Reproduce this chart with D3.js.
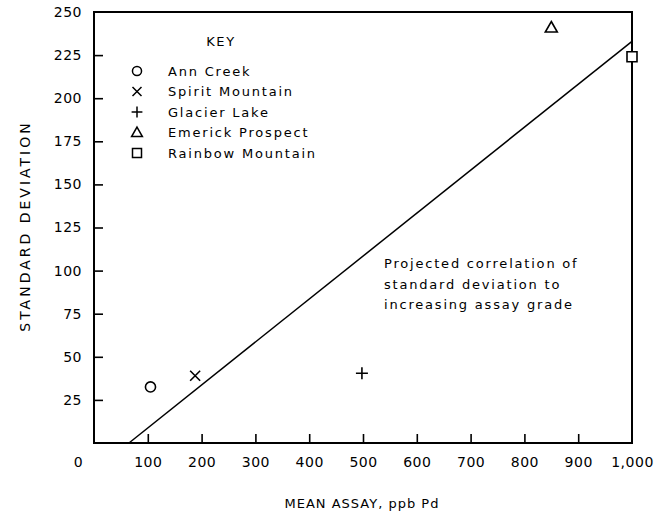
<!DOCTYPE html>
<html>
<head>
<meta charset="utf-8">
<script src="https://cdn.jsdelivr.net/npm/d3@7"></script>
<style>
  body { margin: 0; background: #fff; }
  svg { display: block; }
  text { font-family: "DejaVu Sans", sans-serif; fill: #000; }
</style>
</head>
<body>
<div id="wrapper"></div>
<script>
// data
const sites = ["Ann Creek", "Spirit Mountain", "Glacier Lake", "Emerick Prospect", "Rainbow Mountain"];
const symbols = ["circle", "cross", "plus", "triangle", "square"];
const meanAssay = [105, 188, 498, 850, 1000];
const stdDev = [32.5, 39, 40.5, 241, 224];
const trendX = [65, 1000];
const trendY = [0, 233];
const xTicks = [0, 100, 200, 300, 400, 500, 600, 700, 800, 900, 1000];
const yTicks = [25, 50, 75, 100, 125, 150, 175, 200, 225, 250];
const noteLines = ["Projected correlation of", "standard deviation to", "increasing assay grade"];

const dimensions = {
  width: 661,
  height: 514,
  margin: { top: 12, right: 29, bottom: 71, left: 94 },
}
dimensions.boundedWidth = dimensions.width - dimensions.margin.left - dimensions.margin.right
dimensions.boundedHeight = dimensions.height - dimensions.margin.top - dimensions.margin.bottom

const wrapper = d3.select("#wrapper")
  .append("svg")
    .attr("width", dimensions.width)
    .attr("height", dimensions.height)

const bounds = wrapper.append("g")
  .attr("transform", `translate(${dimensions.margin.left},${dimensions.margin.top})`)

// scales
const xScale = d3.scaleLinear()
  .domain([0, 1000])
  .range([0, dimensions.boundedWidth])

const yScale = d3.scaleLinear()
  .domain([0, 250])
  .range([dimensions.boundedHeight, 0])

// frame
bounds.append("rect")
  .attr("width", dimensions.boundedWidth)
  .attr("height", dimensions.boundedHeight)
  .attr("fill", "none")
  .attr("stroke", "#000")
  .attr("stroke-width", 2)

// axes, ticks pointing inward
const xAxis = bounds.append("g")
  .attr("transform", `translate(0,${dimensions.boundedHeight})`)
  .call(d3.axisBottom(xScale)
    .tickValues(xTicks)
    .tickSize(-9)
    .tickPadding(14)
    .tickFormat(d3.format(",")))
xAxis.select(".domain").remove()
xAxis.selectAll(".tick line")
  .attr("stroke-width", 1.6)
  .filter(d => d === 0 || d === 1000).remove()
xAxis.selectAll(".tick text")
  .style("font-size", "14px")
  .style("letter-spacing", "0.5px")
  .attr("dx", d => d === 0 ? -16 : 0)

const yAxis = bounds.append("g")
  .call(d3.axisLeft(yScale)
    .tickValues(yTicks)
    .tickSize(-9)
    .tickPadding(12))
yAxis.select(".domain").remove()
yAxis.selectAll(".tick line")
  .attr("stroke-width", 1.6)
  .filter(d => d === 250).remove()
yAxis.selectAll(".tick text")
  .style("font-size", "14px")
  .style("letter-spacing", "0.5px")

// axis titles
wrapper.append("text")
  .attr("x", dimensions.margin.left + dimensions.boundedWidth / 2 - 1)
  .attr("y", 508)
  .attr("text-anchor", "middle")
  .style("font-size", "13px")
  .style("letter-spacing", "1px")
  .text("MEAN ASSAY, ppb Pd")

wrapper.append("text")
  .attr("transform", `translate(30,226) rotate(-90)`)
  .attr("text-anchor", "middle")
  .style("font-size", "14px")
  .style("letter-spacing", "3px")
  .text("STANDARD DEVIATION")

// symbol drawing
const symbolPath = (type, size) => {
  const s = size
  if (type === "circle") return d3.symbol(d3.symbolCircle, s * s * 0.8)()
  if (type === "cross") return `M${-s/2},${-s/2}L${s/2},${s/2}M${-s/2},${s/2}L${s/2},${-s/2}`
  if (type === "plus") return `M${-s*0.6},0L${s*0.6},0M0,${-s*0.6}L0,${s*0.6}`
  if (type === "triangle") return `M0,${-s*0.6}L${s*0.6},${s*0.45}L${-s*0.6},${s*0.45}Z`
  return `M${-s/2},${-s/2}H${s/2}V${s/2}H${-s/2}Z`
}

// trend line
const line = d3.line()
  .x(d => xScale(d[0]))
  .y(d => yScale(d[1]))
bounds.append("path")
  .datum(d3.zip(trendX, trendY))
  .attr("d", line)
  .attr("fill", "none")
  .attr("stroke", "#000")
  .attr("stroke-width", 1.5)

// points
bounds.selectAll(".pt")
  .data(d3.range(sites.length))
  .join("path")
    .attr("class", "pt")
    .attr("transform", i => `translate(${xScale(meanAssay[i])},${yScale(stdDev[i])})`)
    .attr("d", i => symbolPath(symbols[i], 10))
    .attr("fill", "#fff")
    .attr("stroke", "#000")
    .attr("stroke-width", 1.6)

// key
const key = wrapper.append("g")
  .attr("transform", "translate(137,0)")
key.append("text")
  .attr("x", 84)
  .attr("y", 46)
  .attr("text-anchor", "middle")
  .style("font-size", "13px")
  .style("letter-spacing", "1.6px")
  .text("KEY")
const keyRows = key.selectAll(".row")
  .data(d3.range(sites.length))
  .join("g")
    .attr("class", "row")
    .attr("transform", i => `translate(0,${71 + i * 20.5})`)
keyRows.append("path")
  .attr("d", i => symbolPath(symbols[i], 9))
  .attr("fill", "none")
  .attr("stroke", "#000")
  .attr("stroke-width", 1.5)
keyRows.append("text")
  .attr("x", 31)
  .attr("dy", "0.35em")
  .style("font-size", "13px")
  .style("letter-spacing", "1.8px")
  .text(i => sites[i])

// annotation
wrapper.append("text")
  .attr("x", 384)
  .attr("y", 268)
  .style("font-size", "13px")
  .style("letter-spacing", "1.8px")
  .selectAll("tspan")
  .data(noteLines)
  .join("tspan")
    .attr("x", 384)
    .attr("dy", (d, i) => i === 0 ? 0 : 20.5)
    .text(d => d)
</script>
</body>
</html>
